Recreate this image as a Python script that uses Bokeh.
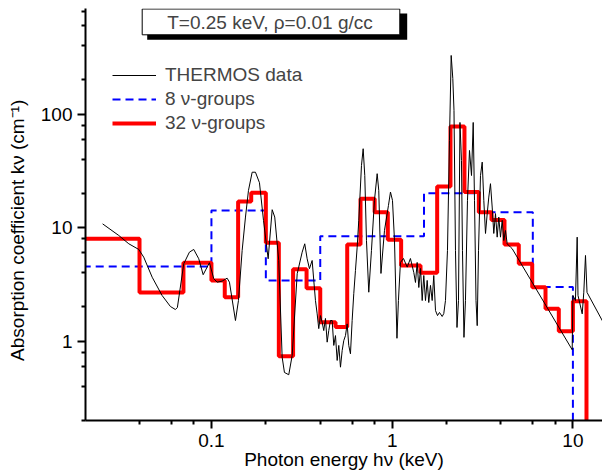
import numpy as np
from bokeh.plotting import figure
from bokeh.models import (FixedTicker, Legend, LegendItem, Label, BoxAnnotation,
                          Range1d, CustomJSTickFormatter)
from bokeh.embed import file_html
from bokeh.resources import INLINE

FONT = "Liberation Sans"

# ---------------- data ----------------
thermos_E = [0.0250, 0.0307, 0.0349, 0.0396, 0.0422, 0.0470, 0.0533, 0.0593, 0.0632, 0.0648,
             0.0703, 0.0755, 0.0798, 0.0851, 0.0900, 0.0975, 0.103, 0.1075, 0.1146, 0.1221,
             0.1258, 0.1358, 0.1411, 0.1479, 0.1543, 0.1603, 0.1680, 0.1752, 0.1844, 0.1941,
             0.2060, 0.2168, 0.2240, 0.2357, 0.2462, 0.2535, 0.2678, 0.2797, 0.2982, 0.3177,
             0.3283, 0.3385, 0.3486, 0.3608, 0.3683, 0.3763, 0.3846, 0.3925, 0.4010, 0.4098,
             0.4183, 0.4275, 0.4368, 0.4458, 0.4556, 0.4656, 0.4752, 0.4856, 0.4963, 0.5065,
             0.5176, 0.5289, 0.5397, 0.5516, 0.5636, 0.5752, 0.5878, 0.6006, 0.6131, 0.6265,
             0.6402, 0.6535, 0.6763, 0.6911, 0.7053, 0.7208, 0.7422, 0.7681, 0.7980, 0.8260,
             0.8430, 0.8670, 0.9066, 0.9539, 0.9786, 1.004, 1.030, 1.063, 1.083, 1.111,
             1.155, 1.211, 1.262, 1.317, 1.346, 1.375, 1.404, 1.435, 1.466, 1.496,
             1.529, 1.562, 1.594, 1.629, 1.665, 1.699, 1.737, 1.782, 1.827, 1.891,
             1.930, 1.972, 2.023, 2.075, 2.121, 2.165, 2.198, 2.240, 2.284, 2.328,
             2.372, 2.418, 2.449, 2.496, 2.544, 2.610, 2.678, 2.748, 2.808, 2.855,
             2.910, 2.955, 3.004, 3.081, 3.149, 3.214, 3.284, 3.356, 3.425, 3.499,
             3.576, 3.650, 3.730, 3.811, 3.890, 3.975, 4.062, 4.146, 4.236, 4.329,
             4.516, 4.616, 9.911, 10.0, 10.33, 10.56, 10.67, 11.26, 11.49, 11.74,
             11.97, 14.53, 15.0]
thermos_k = [10.8, 8.54, 7.21, 6.43, 5.50, 3.66, 2.53, 2.02, 1.90, 1.98,
             4.81, 6.08, 6.43, 5.32, 3.85, 4.91, 3.55, 3.31, 3.38, 3.59,
             3.31, 1.52, 2.28, 6.30, 12.4, 21.3, 30.8, 30.8, 24.9, 11.6,
             5.32, 14.4, 12.4, 5.14, 0.723, 0.530, 0.506, 0.748, 3.93, 6.08,
             7.21, 5.32, 4.35, 5.14, 3.43, 2.28, 1.74, 1.29, 1.68, 1.47,
             1.24, 1.585, 0.98, 1.24, 1.52, 1.52, 0.917, 1.12, 0.676, 0.917,
             0.590, 0.828, 1.01, 1.12, 1.42, 0.917, 0.774, 1.52, 2.62, 4.20,
             6.73, 11.6, 35.3, 49.6, 28.8, 7.71, 2.70, 6.30, 17.4, 29.9,
             21.3, 3.95, 9.45, 15.7, 20.6, 17.4, 7.71, 1.06, 2.28, 4.94,
             5.35, 4.49, 5.35, 4.03, 3.29, 4.94, 2.97, 4.37, 2.28, 3.79,
             2.28, 3.43, 2.19, 3.10, 2.28, 3.79, 1.86, 1.68, 1.79, 1.65,
             1.75, 2.28, 6.30, 58.7, 329, 206, 108, 6.30, 1.32, 2.28,
             84.5, 39.1, 6.30, 1.08, 2.28, 17.4, 47.9, 28.8, 84.5, 17.4,
             2.28, 1.37, 6.30, 28.8, 37.8, 17.4, 8.89, 13.3, 18.6, 24.4,
             15.2, 8.89, 13.3, 8.25, 12.4, 8.25, 11.6, 7.71, 9.45, 7.21,
             6.73, 6.52, 0.840, 2.53, 2.28, 8.25, 2.53, 1.74, 2.70, 5.69,
             2.69, 1.52, 1.40]

g32_edges = [0.01, 0.04, 0.07, 0.1, 0.1185, 0.1405, 0.166, 0.2, 0.236, 0.283,
             0.336, 0.4, 0.486, 0.564, 0.668, 0.8, 0.946, 1.121, 1.435, 1.774,
             2.102, 2.512, 3.016, 3.544, 4.183, 5.019, 5.955, 7.054, 8.356, 10.0,
             11.89, 20.0]
g32_k = [8.0, 2.69, 4.91, 3.42, 2.44, 17.0, 20.3, 7.36, 0.738, 4.3,
         2.93, 1.47, 1.33, 7.11, 18.0, 13.7, 7.82, 4.64, 4.0, 23.1,
         77.7, 20.6, 13.7, 11.7, 7.11, 4.81, 2.99, 1.93, 1.22, 2.25,
         0.001]

g8_edges = [0.01, 0.1, 0.2, 0.4, 1.5, 3.0, 6.0, 10.0, 20.0]
g8_k = [4.55, 14.2, 3.43, 8.41, 20.1, 13.7, 3.0, 0.001]

x_major = [0.1, 1, 10]
x_minor = [0.02, 0.04, 0.06, 0.08, 0.2, 0.4, 0.6, 0.8, 2, 4, 6, 8]
y_major = [1, 10, 100]
y_minor = [0.2, 0.4, 0.6, 0.8, 2, 4, 6, 8, 20, 40, 60, 80, 200, 400, 600, 800]

title_text = "T=0.25 keV, \u03c1=0.01 g/cc"
legend_labels = ["THERMOS data", "8 \u03bd-groups", "32 \u03bd-groups"]
x_title = "Photon energy h\u03bd (keV)"
y_title = "Absorption coefficient k\u03bd (cm\u207b\u00b9)" + "\u00a0" * 6

# ---------------- figure ----------------
p = figure(width=602, height=475, x_axis_type="log", y_axis_type="log",
           x_range=Range1d(0.0201, 14.58), y_range=Range1d(0.2, 853),
           output_backend="svg", toolbar_location=None,
           min_border_left=85, min_border_right=0, min_border_top=8, min_border_bottom=55)
p.outline_line_color = None
p.grid.visible = False
p.background_fill_color = "white"
p.border_fill_color = "white"

fmt = CustomJSTickFormatter(code="return String(tick);")
for ax, maj, mnr in ((p.xaxis[0], x_major, x_minor), (p.yaxis[0], y_major, y_minor)):
    ax.ticker = FixedTicker(ticks=maj, minor_ticks=mnr)
    ax.formatter = fmt
    ax.axis_line_width = 2
    ax.axis_line_color = "black"
    ax.major_tick_line_width = 2
    ax.minor_tick_line_width = 2
    ax.major_tick_line_color = "black"
    ax.minor_tick_line_color = "black"
    ax.major_tick_out = 8
    ax.major_tick_in = 0
    ax.minor_tick_out = 4
    ax.minor_tick_in = 0
    ax.major_label_text_font = FONT
    ax.major_label_text_font_size = "19px"
    ax.major_label_text_color = "black"
    ax.major_label_standoff = 5
    ax.axis_label_text_font = FONT
    ax.axis_label_text_font_size = "19px"
    ax.axis_label_text_font_style = "normal"
    ax.axis_label_text_color = "black"
p.xaxis[0].axis_label = x_title
p.xaxis[0].axis_label_standoff = -1
p.yaxis[0].axis_label = y_title
p.yaxis[0].axis_label_standoff = 10

# ---------------- data renderers ----------------
r8 = p.step(g8_edges, g8_k + [g8_k[-1]], mode="after", line_color="blue",
            line_width=2, line_dash="8 5")
r32 = p.step(g32_edges, g32_k + [g32_k[-1]], mode="after", line_color="red",
             line_width=4)
rth = p.line(thermos_E, thermos_k, line_color="black", line_width=1)

# ---------------- legend ----------------
legend = Legend(items=[LegendItem(label=legend_labels[0], renderers=[rth]),
                       LegendItem(label=legend_labels[1], renderers=[r8]),
                       LegendItem(label=legend_labels[2], renderers=[r32])],
                location=(27, 286), padding=0, margin=0, spacing=2,
                glyph_width=44, glyph_height=22, label_height=22, label_standoff=9,
                label_text_font=FONT, label_text_font_size="19px",
                border_line_color=None, background_fill_alpha=0)
p.add_layout(legend)

# ---------------- title box ----------------
su = dict(left_units="screen", right_units="screen", top_units="screen", bottom_units="screen")
p.add_layout(BoxAnnotation(left=61.7, right=321.7, top=407, bottom=380.7,
                           fill_color="black", fill_alpha=1, line_color=None, **su))
p.add_layout(BoxAnnotation(left=56.7, right=314.3, top=411.5, bottom=385.7,
                           fill_color="white", fill_alpha=1, line_color="black",
                           line_alpha=1, line_width=1, **su))
p.add_layout(Label(x=184.5, y=398.5, x_units="screen", y_units="screen", text=title_text,
                   text_align="center", text_baseline="alphabetic",
                   text_font=FONT, text_font_size="19px"))

open("out.html", "w").write(file_html(p, INLINE))
